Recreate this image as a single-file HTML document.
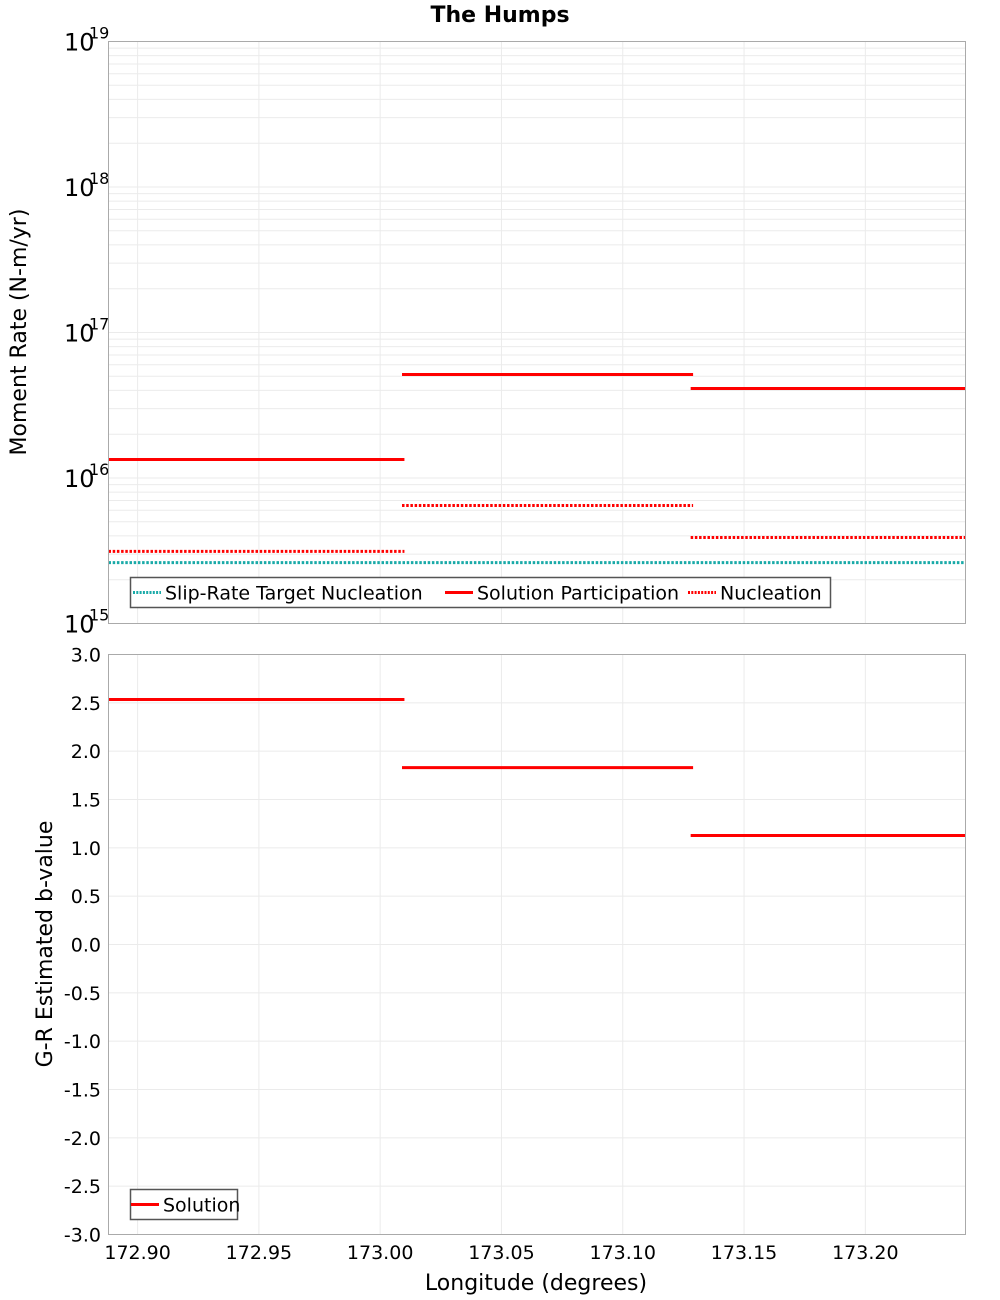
<!DOCTYPE html>
<html><head><meta charset="utf-8"><style>
body{margin:0;background:#fff;}
svg{display:block;font-family:"DejaVu Sans","Liberation Sans",sans-serif;}
</style></head><body>
<svg id="c" width="1000" height="1300" xmlns="http://www.w3.org/2000/svg">
<text x="500" y="22" text-anchor="middle" font-size="22" font-weight="bold">The Humps</text>
<g id="topPanel"></g>
<g id="botPanel"></g>
<text transform="translate(26,332) rotate(-90)" text-anchor="middle" font-size="22">Moment Rate (N-m/yr)</text>
<text transform="translate(52,944) rotate(-90)" text-anchor="middle" font-size="22">G-R Estimated b-value</text>
<text x="536" y="1290" text-anchor="middle" font-size="22">Longitude (degrees)</text>
</svg>
<script>
const xTicks=[172.90,172.95,173.00,173.05,173.10,173.15,173.20];
const segStarts=[172.888,173.009,173.128];
const segEnds=[173.010,173.129,173.2413];
const participation=[1.34e16,5.14e16,4.12e16];
const nucleation=[3.13e15,6.47e15,3.9e15];
const slipTarget=[2.62e15];
const bValues=[2.535,1.83,1.128];
const logTicks=[15,16,17,18,19];
const bTicks=[3.0,2.5,2.0,1.5,1.0,0.5,0.0,-0.5,-1.0,-1.5,-2.0,-2.5,-3.0];

const NS="http://www.w3.org/2000/svg";
const L=108.5,R=965.5,T1=41.5,B1=623.5,T2=654.5,B2=1234.5;
const xMin=172.888,xMax=173.2413;
const X=v=>L+(v-xMin)/(xMax-xMin)*(R-L);
const Ylog=v=>B1-(Math.log10(v)-15)/4*(B1-T1);
const Yb=v=>B2-(v+3)/6*(B2-T2);
function el(p,t,a){const e=document.createElementNS(NS,t);for(const k in a)e.setAttribute(k,a[k]);p.appendChild(e);return e;}
const topG=document.getElementById('topPanel'),botG=document.getElementById('botPanel');

for(let d=15;d<19;d++)for(let m=1;m<10;m++){const y=Ylog(m*Math.pow(10,d));
 const g=el(topG,'line',{x1:L,x2:R,y1:y,y2:y,stroke:'#ebebeb','stroke-width':1});
 
 }
xTicks.forEach(v=>{[[T1,B1,topG],[T2,B2,botG]].forEach(([a,b,p])=>{
 const g=el(p,'line',{x1:X(v),x2:X(v),y1:a,y2:b,stroke:'#ebebeb','stroke-width':1});
 
 });});
bTicks.forEach(v=>{const g=el(botG,'line',{x1:L,x2:R,y1:Yb(v),y2:Yb(v),stroke:'#ebebeb','stroke-width':1});
 
 
 const t=el(botG,'text',{x:101,y:Yb(v)+7,'text-anchor':'end','font-size':19});
 t.textContent=v.toFixed(1);
 
 });
logTicks.forEach(d=>{const y=Ylog(Math.pow(10,d));
 const t=el(topG,'text',{x:64,y:y+9,'font-size':24});
 t.textContent='10';
 
 
 const s=el(topG,'text',{x:89,y:y-3,'font-size':16});
 s.textContent=String(d);
 
 });
xTicks.forEach(v=>{const t=el(botG,'text',{x:X(v),y:1259,'text-anchor':'middle','font-size':19});
 t.textContent=v.toFixed(2);
 
 });

slipTarget.forEach(v=>{const l=el(topG,'line',{x1:L,x2:R,y1:Ylog(v),y2:Ylog(v),stroke:'#19aaa8','stroke-width':3,'stroke-dasharray':'2.5,1.7'});
 
 });
nucleation.forEach((v,i)=>{const l=el(topG,'line',{x1:X(segStarts[i]),x2:X(segEnds[i]),y1:Ylog(v),y2:Ylog(v),stroke:'#ff0000','stroke-width':3,'stroke-dasharray':'2.5,1.7'});
 
 });
participation.forEach((v,i)=>{const l=el(topG,'line',{x1:X(segStarts[i]),x2:X(segEnds[i]),y1:Ylog(v),y2:Ylog(v),stroke:'#ff0000','stroke-width':3});
 
 });
bValues.forEach((v,i)=>{const l=el(botG,'line',{x1:X(segStarts[i]),x2:X(segEnds[i]),y1:Yb(v),y2:Yb(v),stroke:'#ff0000','stroke-width':3});
 
 });

[[T1,B1,topG],[T2,B2,botG]].forEach(([a,b,p])=>{const r=el(p,'rect',{x:L,y:a,width:R-L,height:b-a,fill:'none',stroke:'#aaaaaa','stroke-width':1});
 
 });

function legend(p,x,y,w,items,name){const g=el(p,'g',{});
 
 
 el(g,'rect',{x:x,y:y,width:w,height:30,fill:'#fff',stroke:'#555','stroke-width':1.5});
 items.forEach(it=>{const ln=el(g,'line',{x1:it.x,x2:it.x+28,y1:y+15,y2:y+15,stroke:it.c,'stroke-width':3});
  if(it.d)ln.setAttribute('stroke-dasharray','2,1.3');
  
  
  const t=el(g,'text',{x:it.x+32,y:y+22,'font-size':19});
  t.textContent=it.t;
  
  });}
legend(topG,130.5,577.5,700,[{x:133,c:'#19aaa8',d:1,t:'Slip-Rate Target Nucleation'},{x:445,c:'#ff0000',t:'Solution Participation'},{x:688,c:'#ff0000',d:1,t:'Nucleation'}],'moment-legend');
legend(botG,130.5,1189.5,107,[{x:131,c:'#ff0000',t:'Solution'}],'b-value-legend');
</script>
</body></html>
